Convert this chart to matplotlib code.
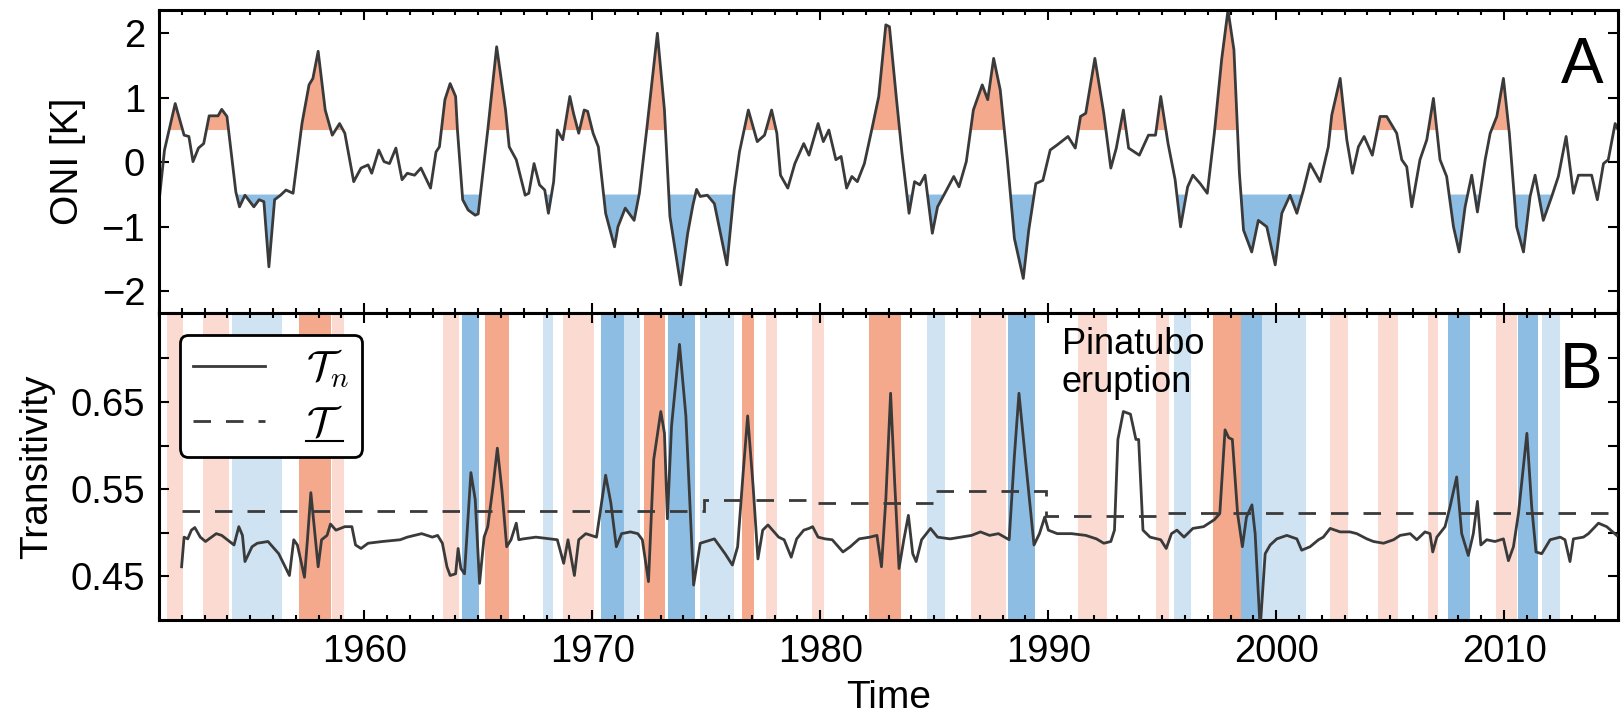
import matplotlib
matplotlib.use('Agg')
import matplotlib.pyplot as plt
from matplotlib.ticker import MultipleLocator, FixedLocator, NullFormatter, FormatStrFormatter
from matplotlib.lines import Line2D
import numpy as np

plt.rcParams['font.family'] = ['Liberation Sans', 'DejaVu Sans']
plt.rcParams['mathtext.fontset'] = 'cm'

# ONI index (turning points)
oni_years = [1951.01, 1951.24, 1951.71, 1952.10, 1952.31, 1952.49, 1952.73, 1952.96, 1953.20, 1953.59,
             1953.75, 1953.98, 1954.37, 1954.53, 1954.77, 1955.16, 1955.39, 1955.60, 1955.82, 1956.07,
             1956.33, 1956.57, 1956.88, 1957.12, 1957.27, 1957.58, 1957.75, 1957.98, 1958.29, 1958.60,
             1958.92, 1959.15, 1959.54, 1959.86, 1960.17, 1960.33, 1960.64, 1960.87, 1961.11, 1961.39,
             1961.66, 1961.89, 1962.21, 1962.49, 1962.91, 1963.15, 1963.30, 1963.54, 1963.77, 1964.01,
             1964.09, 1964.32, 1964.56, 1964.87, 1965.00, 1965.42, 1965.81, 1966.20, 1966.36, 1966.67,
             1967.06, 1967.22, 1967.45, 1967.69, 1967.92, 1968.08, 1968.31, 1968.47, 1968.71, 1969.02,
             1969.18, 1969.41, 1969.65, 1969.80, 1970.04, 1970.27, 1970.59, 1970.98, 1971.13, 1971.45,
             1971.84, 1972.07, 1972.39, 1972.86, 1973.17, 1973.41, 1973.88, 1974.19, 1974.42, 1974.58,
             1974.74, 1975.05, 1975.36, 1975.91, 1976.23, 1976.46, 1976.85, 1977.24, 1977.56, 1977.87,
             1978.10, 1978.26, 1978.58, 1978.89, 1979.28, 1979.51, 1979.91, 1980.14, 1980.38, 1980.69,
             1980.92, 1981.16, 1981.39, 1981.63, 1981.94, 1982.26, 1982.57, 1982.88, 1983.04, 1983.35,
             1983.59, 1983.90, 1984.14, 1984.37, 1984.60, 1984.92, 1985.15, 1985.47, 1985.86, 1986.09,
             1986.41, 1986.72, 1987.11, 1987.35, 1987.61, 1987.90, 1988.21, 1988.52, 1988.91, 1989.15,
             1989.46, 1989.77, 1990.09, 1990.40, 1990.87, 1991.19, 1991.42, 1991.65, 1992.05, 1992.44,
             1992.75, 1992.99, 1993.30, 1993.53, 1994.00, 1994.40, 1994.71, 1994.94, 1995.26, 1995.57,
             1995.81, 1996.12, 1996.35, 1996.67, 1996.98, 1997.29, 1997.61, 1997.89, 1998.15, 1998.39,
             1998.57, 1998.93, 1999.22, 1999.59, 1999.96, 2000.25, 2000.61, 2000.91, 2001.20, 2001.49,
             2001.93, 2002.29, 2002.44, 2002.81, 2003.10, 2003.35, 2003.61, 2003.86, 2004.22, 2004.56,
             2004.85, 2005.29, 2005.51, 2005.73, 2005.95, 2006.31, 2006.61, 2006.90, 2007.19, 2007.48,
             2007.78, 2008.03, 2008.29, 2008.58, 2008.83, 2009.17, 2009.39, 2009.68, 2009.97, 2010.23,
             2010.55, 2010.85, 2011.14, 2011.36, 2011.72, 2012.09, 2012.38, 2012.72, 2013.04, 2013.26,
             2013.84, 2014.09, 2014.36, 2014.57, 2014.87, 2015.01]
oni_values = [-0.58, 0.19, 0.91, 0.42, 0.40, 0.01, 0.22, 0.29, 0.72, 0.72,
              0.82, 0.71, -0.46, -0.69, -0.51, -0.69, -0.58, -0.61, -1.62, -0.58,
              -0.51, -0.43, -0.48, 0.19, 0.60, 1.20, 1.30, 1.72, 0.81, 0.42,
              0.60, 0.45, -0.30, -0.09, -0.04, -0.17, 0.19, 0.01, -0.02, 0.22,
              -0.27, -0.17, -0.20, -0.09, -0.40, 0.16, 0.24, 0.97, 1.22, 1.02,
              0.50, -0.58, -0.74, -0.82, -0.80, 0.50, 1.79, 0.81, 0.24, 0.04,
              -0.51, -0.48, -0.02, -0.35, -0.43, -0.79, -0.30, 0.50, 0.35, 1.02,
              0.76, 0.45, 0.81, 0.79, 0.45, 0.24, -0.79, -1.31, -1.00, -0.71,
              -0.90, -0.48, 0.50, 2.00, 0.81, -0.84, -1.90, -1.10, -0.66, -0.42,
              -0.53, -0.51, -0.64, -1.59, -0.43, 0.16, 0.81, 0.32, 0.42, 0.81,
              0.45, -0.20, -0.40, -0.02, 0.29, 0.11, 0.60, 0.32, 0.50, 0.04,
              0.09, -0.40, -0.22, -0.30, -0.02, 0.50, 1.02, 2.13, 2.10, 0.97,
              0.14, -0.79, -0.30, -0.35, -0.20, -1.10, -0.69, -0.48, -0.22, -0.38,
              0.01, 0.81, 1.20, 0.97, 1.61, 1.12, 0.04, -1.18, -1.80, -1.05,
              -0.33, -0.28, 0.19, 0.27, 0.40, 0.22, 0.71, 0.76, 1.61, 0.76,
              -0.09, 0.22, 0.81, 0.22, 0.11, 0.42, 0.42, 1.02, 0.29, -0.27,
              -1.00, -0.38, -0.20, -0.33, -0.48, 0.45, 1.59, 2.36, 1.74, -0.17,
              -1.05, -1.39, -0.90, -1.00, -1.59, -0.79, -0.51, -0.79, -0.43, -0.02,
              -0.30, 0.24, 0.73, 1.30, 0.35, -0.17, 0.24, 0.40, 0.11, 0.71,
              0.71, 0.45, 0.04, -0.07, -0.69, 0.04, 0.35, 0.99, 0.04, -0.22,
              -1.00, -1.39, -0.69, -0.20, -0.77, 0.04, 0.45, 0.71, 1.30, 0.45,
              -1.00, -1.39, -0.53, -0.20, -0.90, -0.53, -0.22, 0.40, -0.48, -0.20,
              -0.20, -0.58, -0.02, 0.04, 0.60, 0.50]

# network transitivity T_n (panel B)
tn_years = [1951.99, 1952.10, 1952.26, 1952.42, 1952.57, 1952.81, 1953.04, 1953.51, 1953.75, 1954.29,
            1954.50, 1954.66, 1954.77, 1955.08, 1955.31, 1955.78, 1956.25, 1956.72, 1956.91, 1957.07,
            1957.38, 1957.51, 1957.66, 1957.82, 1957.98, 1958.13, 1958.37, 1958.52, 1958.76, 1959.15,
            1959.46, 1959.62, 1959.86, 1960.17, 1960.80, 1961.58, 1961.89, 1962.52, 1962.99, 1963.22,
            1963.43, 1963.63, 1963.77, 1964.01, 1964.12, 1964.24, 1964.40, 1964.68, 1964.87, 1965.06,
            1965.26, 1965.42, 1965.65, 1965.84, 1966.04, 1966.25, 1966.44, 1966.67, 1966.78, 1966.98,
            1967.53, 1968.16, 1968.47, 1968.75, 1968.94, 1969.22, 1969.41, 1969.72, 1970.19, 1970.59,
            1970.82, 1971.06, 1971.29, 1971.68, 1972.00, 1972.20, 1972.47, 1972.70, 1973.01, 1973.17,
            1973.30, 1973.48, 1973.83, 1974.11, 1974.30, 1974.45, 1974.74, 1975.36, 1975.83, 1976.15,
            1976.38, 1976.62, 1976.82, 1977.06, 1977.27, 1977.48, 1977.71, 1978.18, 1978.42, 1978.73,
            1978.97, 1979.28, 1979.51, 1979.67, 1979.91, 1980.22, 1980.53, 1981.00, 1981.32, 1981.71,
            1982.18, 1982.49, 1982.69, 1982.88, 1983.09, 1983.27, 1983.46, 1983.67, 1983.87, 1984.06,
            1984.21, 1984.45, 1984.84, 1985.15, 1985.70, 1986.17, 1986.64, 1987.03, 1987.43, 1987.82,
            1988.29, 1988.52, 1988.72, 1988.99, 1989.38, 1989.62, 1989.85, 1990.01, 1990.40, 1991.03,
            1991.65, 1992.12, 1992.44, 1992.75, 1992.91, 1993.06, 1993.30, 1993.61, 1993.85, 1993.97,
            1994.16, 1994.47, 1994.94, 1995.18, 1995.41, 1995.65, 1995.96, 1996.35, 1996.82, 1997.29,
            1997.53, 1997.76, 1997.92, 1998.08, 1998.31, 1998.52, 1998.70, 1998.94, 1999.08, 1999.30,
            1999.52, 1999.74, 2000.03, 2000.47, 2000.91, 2001.12, 2001.49, 2001.86, 2002.07, 2002.37,
            2002.81, 2003.24, 2003.54, 2003.98, 2004.27, 2004.71, 2005.15, 2005.44, 2005.88, 2006.17,
            2006.53, 2006.75, 2006.87, 2007.05, 2007.41, 2007.63, 2007.92, 2008.14, 2008.43, 2008.65,
            2008.83, 2008.98, 2009.24, 2009.60, 2009.97, 2010.19, 2010.41, 2010.63, 2011.00, 2011.21,
            2011.40, 2011.65, 2012.02, 2012.46, 2012.67, 2012.89, 2013.04, 2013.48, 2013.70, 2014.14,
            2014.50, 2014.94]
tn_values = [0.461, 0.495, 0.493, 0.503, 0.506, 0.495, 0.490, 0.499, 0.497, 0.486,
             0.507, 0.497, 0.467, 0.484, 0.488, 0.490, 0.476, 0.451, 0.492, 0.486,
             0.449, 0.492, 0.546, 0.503, 0.461, 0.492, 0.497, 0.510, 0.503, 0.507,
             0.507, 0.486, 0.482, 0.488, 0.490, 0.492, 0.495, 0.499, 0.495, 0.497,
             0.488, 0.461, 0.451, 0.453, 0.482, 0.459, 0.453, 0.569, 0.538, 0.442,
             0.495, 0.507, 0.553, 0.597, 0.549, 0.484, 0.492, 0.511, 0.492, 0.493,
             0.495, 0.493, 0.492, 0.465, 0.492, 0.451, 0.492, 0.499, 0.495, 0.566,
             0.534, 0.484, 0.499, 0.501, 0.499, 0.492, 0.444, 0.584, 0.639, 0.614,
             0.516, 0.622, 0.716, 0.634, 0.526, 0.440, 0.488, 0.493, 0.476, 0.463,
             0.484, 0.568, 0.634, 0.553, 0.470, 0.503, 0.509, 0.495, 0.492, 0.472,
             0.493, 0.503, 0.505, 0.507, 0.495, 0.493, 0.492, 0.478, 0.484, 0.493,
             0.495, 0.497, 0.461, 0.538, 0.660, 0.557, 0.459, 0.492, 0.520, 0.476,
             0.467, 0.492, 0.505, 0.495, 0.493, 0.495, 0.497, 0.501, 0.497, 0.499,
             0.492, 0.588, 0.660, 0.588, 0.486, 0.499, 0.518, 0.503, 0.499, 0.499,
             0.497, 0.493, 0.488, 0.490, 0.503, 0.607, 0.639, 0.636, 0.607, 0.607,
             0.503, 0.495, 0.492, 0.482, 0.499, 0.503, 0.495, 0.505, 0.507, 0.515,
             0.522, 0.618, 0.609, 0.607, 0.522, 0.484, 0.518, 0.532, 0.499, 0.390,
             0.476, 0.486, 0.493, 0.497, 0.493, 0.480, 0.484, 0.492, 0.495, 0.505,
             0.501, 0.501, 0.499, 0.493, 0.490, 0.488, 0.492, 0.497, 0.499, 0.492,
             0.501, 0.499, 0.478, 0.495, 0.507, 0.530, 0.564, 0.499, 0.474, 0.499,
             0.536, 0.486, 0.492, 0.490, 0.493, 0.468, 0.484, 0.522, 0.614, 0.530,
             0.478, 0.476, 0.492, 0.495, 0.492, 0.467, 0.493, 0.495, 0.499, 0.511,
             0.507, 0.497]

# mean transitivity (step function)
tmean_edges = [1952.0, 1974.9, 1979.9, 1984.95, 1989.9, 1994.95, 2015.0]
tmean_levels = [0.525, 0.5376, 0.5345, 0.5483, 0.519, 0.523]

# El Nino / La Nina periods shown as bands in panel B
band_start = [1951.36, 1952.93, 1954.20, 1955.39, 1957.15, 1958.60, 1963.45, 1964.28, 1965.30, 1967.84,
              1968.70, 1970.40, 1971.39, 1972.28, 1973.33, 1974.74, 1975.40, 1976.57, 1977.63, 1979.65,
              1982.16, 1984.68, 1986.60, 1987.43, 1988.26, 1991.33, 1994.74, 1995.50, 1997.25, 1998.45,
              1999.40, 2000.37, 2002.37, 2004.46, 2006.65, 2007.55, 2009.65, 2010.60, 2011.66]
band_end = [1952.06, 1954.05, 1955.39, 1956.40, 1958.55, 1959.10, 1964.18, 1965.04, 1966.36, 1968.30,
            1970.06, 1971.39, 1972.10, 1973.20, 1974.52, 1975.40, 1976.23, 1977.12, 1978.10, 1980.15,
            1983.54, 1985.48, 1987.43, 1988.16, 1989.43, 1992.57, 1995.28, 1996.26, 1998.45, 1999.40,
            2000.37, 2001.30, 2003.14, 2005.34, 2007.12, 2008.50, 2010.55, 2011.48, 2012.44]
band_kind = ['r', 'r', 'b', 'b', 'R', 'r', 'r', 'B', 'R', 'b',
             'r', 'B', 'b', 'R', 'B', 'b', 'b', 'R', 'r', 'r',
             'R', 'b', 'r', 'r', 'B', 'r', 'r', 'b', 'R', 'B',
             'b', 'b', 'r', 'r', 'r', 'B', 'r', 'B', 'b']

band_colors = {'R': '#f4a98d', 'r': '#fbdbd1', 'B': '#8ebde3', 'b': '#d0e3f3'}
line_color = '#3a3a3a'

fig = plt.figure(figsize=(16.21, 7.18), dpi=100)
ax1 = fig.add_axes([0.0981, 0.5641, 0.9001, 0.4220])
ax2 = fig.add_axes([0.0981, 0.1365, 0.9001, 0.4276])

# panel A
x = np.array(oni_years)
y = np.array(oni_values)
ax1.fill_between(x, 0.5, y, where=y >= 0.5, interpolate=True, color=band_colors['R'], lw=0)
ax1.fill_between(x, -0.5, y, where=y <= -0.5, interpolate=True, color=band_colors['B'], lw=0)
ax1.plot(x, y, color=line_color, lw=2)
ax1.set_xlim(1951, 2015)
ax1.set_ylim(-2.335, 2.36)
ax1.set_yticks([-2, -1, 0, 1, 2])
ax1.set_ylabel('ONI [K]', fontsize=28, labelpad=11)
ax1.xaxis.set_major_formatter(NullFormatter())
ax1.text(0.9897, 0.759, 'A', transform=ax1.transAxes, ha='right', va='baseline', fontsize=46)

# panel B
for s, e, k in zip(band_start, band_end, band_kind):
    ax2.axvspan(s, e, color=band_colors[k], lw=0, zorder=0)
ax2.plot(tn_years, tn_values, color=line_color, lw=2, zorder=3)
ax2.stairs(tmean_levels, tmean_edges, baseline=None, color=line_color, lw=2,
           linestyle=(0, (6.3, 5.4)), zorder=3)
ax2.set_xlim(1951, 2015)
ax2.set_ylim(0.40, 0.752)
ax2.yaxis.set_major_locator(FixedLocator([0.45, 0.55, 0.65]))
ax2.yaxis.set_minor_locator(FixedLocator([0.50, 0.60, 0.70]))
ax2.yaxis.set_major_formatter(FormatStrFormatter('%.2f'))
ax2.set_ylabel('Transitivity', fontsize=28, labelpad=11)
ax2.set_xlabel('Time', fontsize=28, labelpad=7)
ax2.text(0.989, 0.756, 'B', transform=ax2.transAxes, ha='right', va='baseline', fontsize=46)
ax2.text(1990.6, 0.736, 'Pinatubo\neruption', fontsize=26, va='top', ha='left', linespacing=1.1, zorder=4)

h1 = Line2D([], [], color=line_color, lw=2)
h2 = Line2D([], [], color=line_color, lw=2, linestyle=(0, (6.3, 5.4)))
leg = ax2.legend([h1, h2], [r'$\mathcal{T}_n$', r'$\mathcal{T}$'],
                 loc='upper left', bbox_to_anchor=(0.0144, 0.928), borderaxespad=0,
                 fontsize=30, handlelength=1.73, handletextpad=1.0, labelspacing=0.35,
                 borderpad=0.3, fancybox=True, framealpha=1)
leg.get_frame().set_edgecolor('black')
leg.get_frame().set_linewidth(2)
leg.set_zorder(5)

for ax in (ax1, ax2):
    ax.xaxis.set_major_locator(MultipleLocator(10))
    ax.xaxis.set_minor_locator(MultipleLocator(1))
    ax.tick_params(which='both', direction='in', top=True, right=True, width=1.5, labelsize=27.5, pad=10)
    ax.tick_params(which='major', length=7.2)
    ax.tick_params(which='minor', length=3.6)
    for sp in ax.spines.values():
        sp.set_linewidth(2.2)
ax2.tick_params(axis='y', which='minor', length=7.2)

# underline the mean-transitivity symbol in the legend (mathtext has no \underline)
fig.canvas.draw()
bb = leg.get_texts()[1].get_window_extent().transformed(fig.transFigure.inverted())
fig.add_artist(Line2D([bb.x0, bb.x1], [bb.y0 + 0.004, bb.y0 + 0.004], color='black', lw=1.5,
                      transform=fig.transFigure, zorder=6))

fig.savefig('out.png', dpi=100)
